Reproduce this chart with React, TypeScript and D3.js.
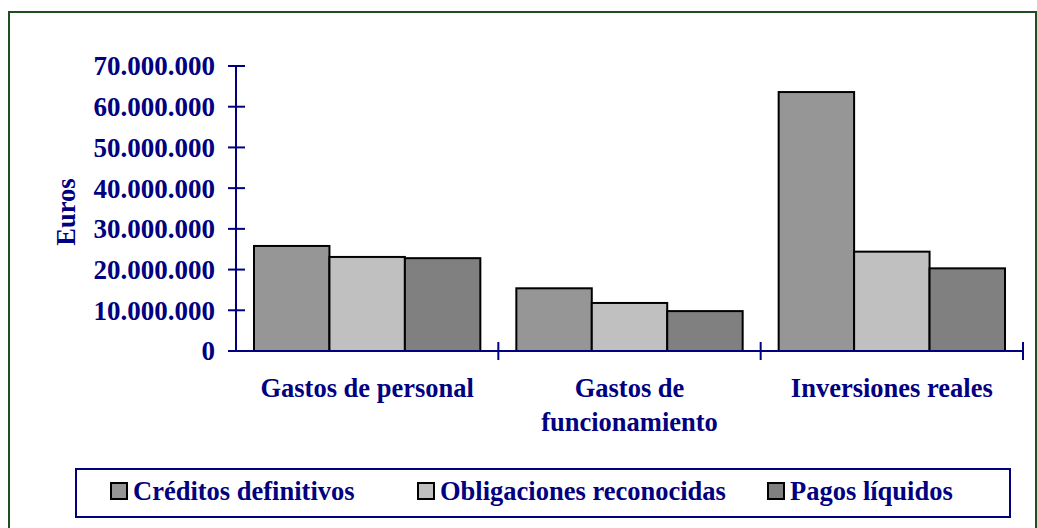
import { useEffect, useRef } from 'react';
import * as d3 from 'd3';

const categories = ['Gastos de personal', 'Gastos de funcionamiento', 'Inversiones reales'];
const categoryLines = [['Gastos de personal'], ['Gastos de', 'funcionamiento'], ['Inversiones reales']];
const seriesNames = ['Créditos definitivos', 'Obligaciones reconocidas', 'Pagos líquidos'];
const creditos = [25800000, 15400000, 63600000];
const obligaciones = [23100000, 11800000, 24400000];
const pagos = [22800000, 9800000, 20300000];
const yTicks = [0, 10000000, 20000000, 30000000, 40000000, 50000000, 60000000, 70000000];
const seriesColors = ['#969696', '#c0c0c0', '#808080'];

const NAVY = '#000080';
const FONT = '"Liberation Serif", "Times New Roman", serif';

export default function App() {
  const svgRef = useRef<SVGSVGElement>(null);

  useEffect(() => {
    if (!svgRef.current) return;
    const svg = d3.select(svgRef.current);
    svg.selectAll('*').remove();

    const width = 1037;
    const height = 528;
    svg.attr('width', width).attr('height', height);

    // outer chart frame
    svg.append('rect')
      .attr('x', 9).attr('y', 12)
      .attr('width', 1027).attr('height', 540)
      .attr('fill', '#ffffff')
      .attr('stroke', '#1f4f1f')
      .attr('stroke-width', 2);

    const series = [creditos, obligaciones, pagos];

    const x = d3.scaleBand<string>()
      .domain(categories)
      .range([236, 1023])
      .paddingInner(0)
      .paddingOuter(0);

    const xs = d3.scaleBand<number>()
      .domain(d3.range(series.length))
      .range([18, x.bandwidth() - 18])
      .padding(0);

    const y = d3.scaleLinear()
      .domain([0, 70000000])
      .range([351, 66]);

    const fmt = (v: number) => d3.format(',')(v).replace(/,/g, '.');

    // bars
    series.forEach((vals, si) => {
      svg.append('g')
        .selectAll('rect')
        .data(vals)
        .enter()
        .append('rect')
        .attr('x', (d, i) => (x(categories[i]) || 0) + (xs(si) || 0))
        .attr('y', d => y(d))
        .attr('width', xs.bandwidth())
        .attr('height', d => y(0) - y(d))
        .attr('fill', seriesColors[si])
        .attr('stroke', '#000')
        .attr('stroke-width', 2);
    });

    // y axis
    const yAxis = svg.append('g');
    yAxis.append('line')
      .attr('x1', 236).attr('x2', 236)
      .attr('y1', y(70000000)).attr('y2', y(0))
      .attr('stroke', NAVY).attr('stroke-width', 2);
    yAxis.selectAll('line.tick')
      .data(yTicks)
      .enter()
      .append('line')
      .attr('class', 'tick')
      .attr('x1', 228).attr('x2', 245)
      .attr('y1', d => y(d)).attr('y2', d => y(d))
      .attr('stroke', NAVY).attr('stroke-width', 2);
    yAxis.selectAll('text')
      .data(yTicks)
      .enter()
      .append('text')
      .attr('x', 215)
      .attr('y', d => y(d))
      .attr('dy', '0.35em')
      .attr('text-anchor', 'end')
      .style('font-family', FONT)
      .style('font-weight', 'bold')
      .style('font-size', '27px')
      .style('fill', NAVY)
      .text(d => fmt(d));

    // x axis
    const xAxis = svg.append('g');
    xAxis.append('line')
      .attr('x1', 236).attr('x2', 1023)
      .attr('y1', y(0)).attr('y2', y(0))
      .attr('stroke', NAVY).attr('stroke-width', 2);
    const boundaries = categories.map(c => (x(c) || 0) + x.bandwidth());
    xAxis.selectAll('line.tick')
      .data(boundaries)
      .enter()
      .append('line')
      .attr('class', 'tick')
      .attr('x1', d => d).attr('x2', d => d)
      .attr('y1', y(0) - 9).attr('y2', y(0) + 9)
      .attr('stroke', NAVY).attr('stroke-width', 2);

    const labels = xAxis.selectAll('text')
      .data(categories)
      .enter()
      .append('text')
      .attr('text-anchor', 'middle')
      .style('font-family', FONT)
      .style('font-weight', 'bold')
      .style('font-size', '26.5px')
      .style('fill', NAVY);
    labels.each(function (c, i) {
      const cx = (x(c) || 0) + x.bandwidth() / 2;
      categoryLines[i].forEach((ln, li) => {
        d3.select(this).append('tspan')
          .attr('x', cx)
          .attr('y', 397 + li * 34)
          .text(ln);
      });
    });

    // y axis title
    svg.append('text')
      .attr('transform', 'translate(75,212) rotate(-90)')
      .attr('text-anchor', 'middle')
      .style('font-family', FONT)
      .style('font-weight', 'bold')
      .style('font-size', '26.5px')
      .style('fill', NAVY)
      .text('Euros');

    // legend
    const legend = svg.append('g');
    legend.append('rect')
      .attr('x', 76).attr('y', 469)
      .attr('width', 934).attr('height', 48)
      .attr('fill', '#ffffff')
      .attr('stroke', NAVY)
      .attr('stroke-width', 2);
    const legendX = [111, 418, 768];
    seriesNames.forEach((name, i) => {
      legend.append('rect')
        .attr('x', legendX[i]).attr('y', 483)
        .attr('width', 16).attr('height', 16)
        .attr('fill', seriesColors[i])
        .attr('stroke', '#000')
        .attr('stroke-width', 2);
      legend.append('text')
        .attr('x', legendX[i] + 22)
        .attr('y', 500)
        .style('font-family', FONT)
        .style('font-weight', 'bold')
        .style('font-size', '26.5px')
        .style('fill', NAVY)
        .text(name);
    });
  }, []);

  return (
    <div style={{ position: 'absolute', left: 0, top: 0, width: 1037, height: 528, overflow: 'hidden', background: '#ffffff' }}>
      <svg ref={svgRef} style={{ display: 'block' }}></svg>
    </div>
  );
}
